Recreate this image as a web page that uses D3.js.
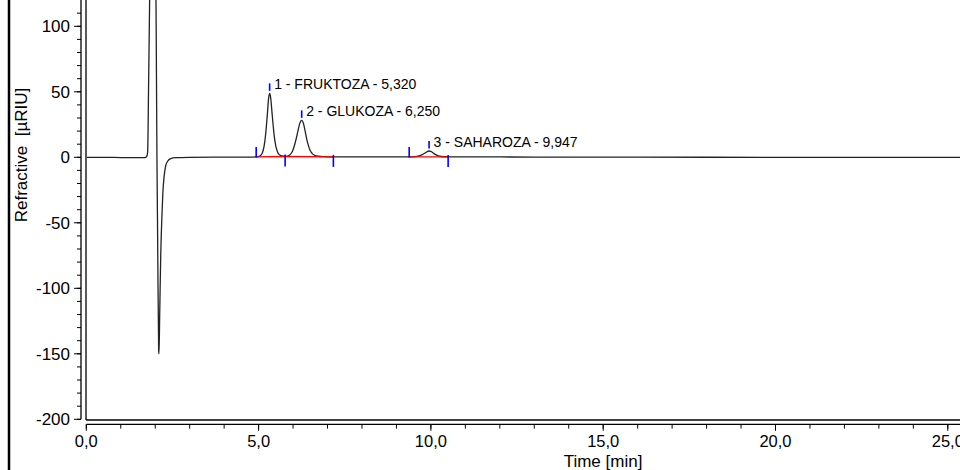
<!DOCTYPE html>
<html>
<head>
<meta charset="utf-8">
<script src="https://cdn.jsdelivr.net/npm/d3@7"></script>
<style>
  html, body { margin: 0; padding: 0; background: #fff; }
  svg { display: block; font-family: "Liberation Sans", Arial, sans-serif; }
</style>
</head>
<body>
<svg id="chart" width="960" height="470"></svg>
<script>
// Detector trace: retention time [min] and refractive index signal [µRIU]
const traceTime = [
  0, 0.5, 1.0, 1.5, 1.70, 1.75, 1.78, 1.81, 1.84, 1.90, 1.95, 2.00, 2.03, 2.05, 2.07, 2.10, 2.11,
  2.13, 2.16, 2.19, 2.22, 2.26, 2.30, 2.36, 2.45, 2.6, 3.0, 4.0, 4.8,
  4.93, 5.00, 5.08, 5.13, 5.18, 5.22, 5.26, 5.29, 5.32, 5.35, 5.38, 5.42, 5.46, 5.50, 5.55, 5.60, 5.67,
  5.77, 5.85, 5.92, 5.98, 6.04, 6.09, 6.14, 6.19, 6.25, 6.30, 6.35, 6.40, 6.45, 6.50, 6.56, 6.63, 6.75, 6.9,
  7.17, 7.5, 8.5,
  9.37, 9.55, 9.65, 9.75, 9.85, 9.947, 10.02, 10.1, 10.2, 10.3,
  10.5, 11, 13, 16, 20, 25.4
];
const traceSignal = [
  0, 0, -0.2, -0.3, -0.3, 0.5, 4, 60, 125, 320, 330, 200, 90, 0, -60, -148, -150,
  -120, -75, -48, -28, -14, -7, -3, -1, -0.3, 0, 0.2, 0.2,
  0.3, 0.6, 2, 5, 12, 22, 35, 45, 48.8, 45.5, 37, 25, 15, 8.5, 4, 2, 1,
  0.6, 1, 2.2, 4.5, 9, 14, 20, 25.5, 28.2, 26, 20, 13.5, 8.5, 5, 2.8, 1.5, 0.8, 0.5,
  0.3, 0.3, 0.3,
  0.3, 0.5, 1, 2, 3.6, 4.8, 4.2, 2.6, 1.2, 0.6,
  0.3, 0.3, 0.2, 0.1, 0, 0
];

// Identified peaks
const peakNames = ["FRUKTOZA", "GLUKOZA", "SAHAROZA"];
const peakTimes = [5.320, 6.250, 9.947];
const peakStart = [4.93, 5.77, 9.37];
const peakEnd = [5.77, 7.17, 10.50];

// Axis ticks
const xMajorTicks = [0, 5, 10, 15, 20, 25];
const xMinorTicks = d3.range(0, 26, 1);
const yMajorTicks = [-200, -150, -100, -50, 0, 50, 100];
const yMinorTicks = d3.range(-200, 111, 10);

const svg = d3.select("#chart");
const plotLeft = 86, plotRight = 960, plotTop = 0, plotBottom = 420;

const x = d3.scaleLinear().domain([0, 25]).range([86.3, 947.8]);
const y = d3.scaleLinear().domain([-200, 100]).range([419.3, 26.3]);

const locale = d3.formatLocale({ decimal: ",", thousands: ".", grouping: [3], currency: ["", ""] });
const fmt1 = locale.format(".1f");
const fmt3 = locale.format(".3f");

const signalAt = t => traceSignal[traceTime.indexOf(t)];

// Outer left rule
svg.append("line").attr("x1", 9).attr("x2", 9).attr("y1", 0).attr("y2", 470)
  .attr("stroke", "#000").attr("stroke-width", 2.5);

// Plot frame (left and bottom)
svg.append("line").attr("x1", plotLeft).attr("x2", plotLeft).attr("y1", plotTop).attr("y2", plotBottom)
  .attr("stroke", "#000").attr("stroke-width", 1.3);
svg.append("line").attr("x1", plotLeft).attr("x2", plotRight).attr("y1", plotBottom).attr("y2", plotBottom)
  .attr("stroke", "#000").attr("stroke-width", 1.3);

// Y axis
const yAxisX = 81;
const yAxisG = svg.append("g").attr("transform", `translate(${yAxisX},0)`);
yAxisG.append("line").attr("x1", 0).attr("x2", 0).attr("y1", 0).attr("y2", y(-200))
  .attr("stroke", "#000").attr("stroke-width", 1.3);
yAxisG.selectAll("line.minor").data(yMinorTicks).join("line").attr("class", "minor")
  .attr("x1", -4).attr("x2", 0).attr("y1", d => y(d)).attr("y2", d => y(d))
  .attr("stroke", "#000").attr("stroke-width", 1);
yAxisG.selectAll("line.major").data(yMajorTicks).join("line").attr("class", "major")
  .attr("x1", -7).attr("x2", 0).attr("y1", d => y(d)).attr("y2", d => y(d))
  .attr("stroke", "#000").attr("stroke-width", 1);
yAxisG.selectAll("text").data(yMajorTicks).join("text")
  .attr("x", -11).attr("y", d => y(d)).attr("dy", "0.35em")
  .attr("text-anchor", "end").attr("font-size", 17).attr("fill", "#000")
  .text(d => d);

// X axis
const xAxisY = 424.3;
const xAxisG = svg.append("g").attr("transform", `translate(0,${xAxisY})`);
xAxisG.append("line").attr("x1", x(0)).attr("x2", plotRight).attr("y1", 0).attr("y2", 0)
  .attr("stroke", "#000").attr("stroke-width", 1.3);
xAxisG.selectAll("line.minor").data(xMinorTicks).join("line").attr("class", "minor")
  .attr("x1", d => x(d)).attr("x2", d => x(d)).attr("y1", 0).attr("y2", 4.3)
  .attr("stroke", "#000").attr("stroke-width", 1);
xAxisG.selectAll("line.major").data(xMajorTicks).join("line").attr("class", "major")
  .attr("x1", d => x(d)).attr("x2", d => x(d)).attr("y1", 0).attr("y2", 6.5)
  .attr("stroke", "#000").attr("stroke-width", 1);
xAxisG.selectAll("text").data(xMajorTicks).join("text")
  .attr("x", d => x(d)).attr("y", 22.5)
  .attr("text-anchor", "middle").attr("font-size", 16.5).attr("fill", "#000")
  .text(d => fmt1(d));

// Axis titles
svg.append("text").attr("x", 603).attr("y", 466.5)
  .attr("text-anchor", "middle").attr("font-size", 17).attr("fill", "#000")
  .text("Time [min]");
svg.append("text").attr("transform", "translate(27,155) rotate(-90)")
  .attr("text-anchor", "middle").attr("font-size", 17).attr("fill", "#000")
  .attr("xml:space", "preserve")
  .text("Refractive  [µRIU]");

// Clip region for the trace
svg.append("clipPath").attr("id", "plotClip")
  .append("rect").attr("x", plotLeft + 1).attr("y", plotTop)
  .attr("width", plotRight - plotLeft).attr("height", plotBottom - plotTop - 1);

const plot = svg.append("g").attr("clip-path", "url(#plotClip)");

const line = d3.line()
  .x((d, i) => x(traceTime[i]))
  .y(d => y(d))
  .curve(d3.curveMonotoneX);

plot.append("path").datum(traceSignal)
  .attr("d", line)
  .attr("fill", "none").attr("stroke", "#222").attr("stroke-width", 1.3)
  .attr("stroke-linejoin", "round");

// Integration baselines
plot.selectAll("line.base").data(peakTimes).join("line").attr("class", "base")
  .attr("x1", (d, i) => x(peakStart[i])).attr("y1", (d, i) => y(signalAt(peakStart[i])))
  .attr("x2", (d, i) => x(peakEnd[i])).attr("y2", (d, i) => y(signalAt(peakEnd[i])))
  .attr("stroke", "#ff0000").attr("stroke-width", 1.4);

// Peak delimiters: starts point up, ends point down
const blue = "#0000ff";
peakTimes.forEach((pt, i) => {
  const sharedStart = i > 0 && peakEnd[i - 1] === peakStart[i];
  if (!sharedStart) {
    const ys = y(signalAt(peakStart[i]));
    plot.append("line").attr("x1", x(peakStart[i])).attr("x2", x(peakStart[i]))
      .attr("y1", ys - 10).attr("y2", ys + 0.5)
      .attr("stroke", blue).attr("stroke-width", 1.6);
  }
  const ye = y(signalAt(peakEnd[i]));
  plot.append("line").attr("x1", x(peakEnd[i])).attr("x2", x(peakEnd[i]))
    .attr("y1", ye - 2).attr("y2", ye + 10)
    .attr("stroke", blue).attr("stroke-width", 1.6);

  // Apex marker and label
  const ya = y(signalAt(pt));
  plot.append("line").attr("x1", x(pt)).attr("x2", x(pt))
    .attr("y1", ya - 10).attr("y2", ya - 2.5)
    .attr("stroke", blue).attr("stroke-width", 1.6);
  plot.append("text").attr("x", x(pt) + 4.5).attr("y", ya - 4.5)
    .attr("font-size", 14).attr("fill", "#000")
    .text(`${i + 1} - ${peakNames[i]} - ${fmt3(pt)}`);
});
</script>
</body>
</html>
